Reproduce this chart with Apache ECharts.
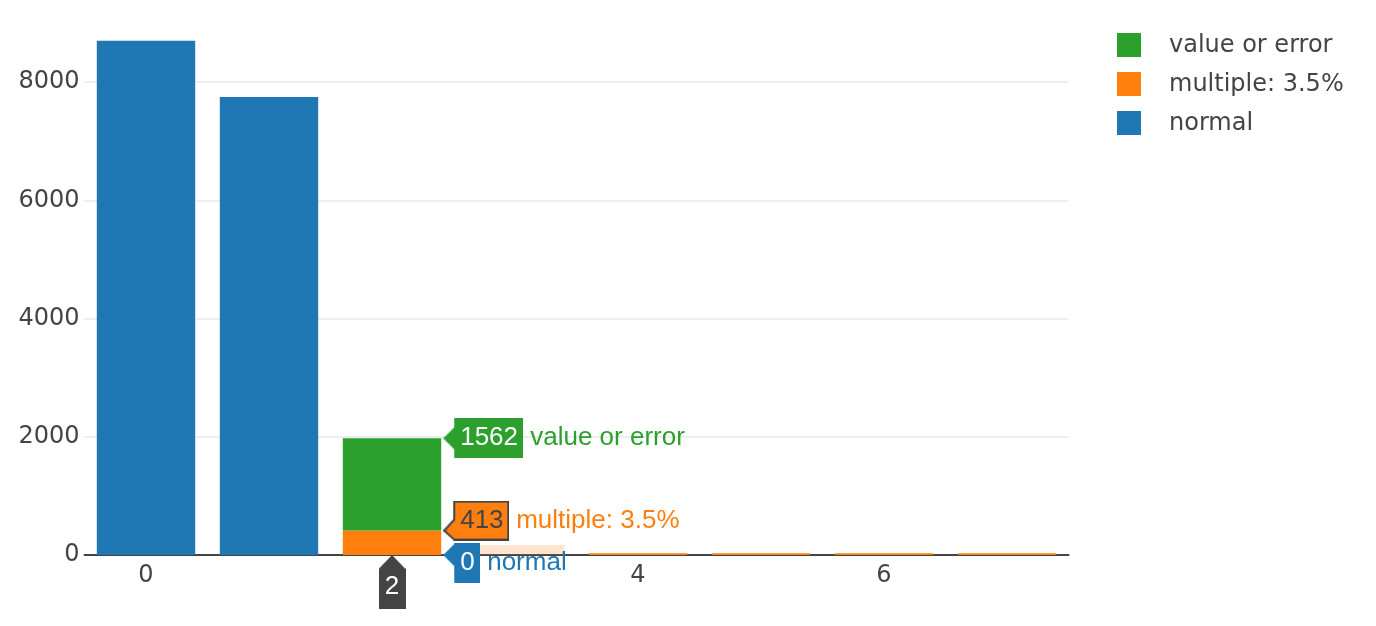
<!DOCTYPE html>
<html>
<head>
<meta charset="utf-8">
<script src="https://cdn.jsdelivr.net/npm/echarts@6/dist/echarts.min.js"></script>
<style>
    html, body { margin: 0; padding: 0; background: #fff; }
    #chart { width: 1376px; height: 626px; }
</style>
</head>
<body>
<div id="chart"></div>
<script>
"use strict";
// 数据
var categories = ['0', '1', '2', '3', '4', '5', '6', '7'];
var normalValues = [8700, 7750, 0, 0, 0, 0, 0, 0];
var multipleValues = [0, 0, 413, 170, 30, 30, 30, 30];
var errorValues = [0, 0, 1562, 0, 0, 0, 0, 0];
var seriesNames = ['normal', 'multiple: 3.5%', 'value or error'];
var legendOrder = ['value or error', 'multiple: 3.5%', 'normal'];

var hoverIndex = 2;   // 悬停的类目
var fadedIndex = 3;   // 淡化的柱子

var colors = ['#1f77b4', '#ff7f0e', '#2ca02c'];
var tickFont = "'DejaVu Sans', Verdana, sans-serif";
var hoverFont = "Arial, 'Liberation Sans', sans-serif";

var measure = document.createElement('canvas').getContext('2d');
measure.font = '26px ' + hoverFont;
function textWidth(t) {
    return Math.ceil(measure.measureText(t).width);
}

/**
 * 画带箭头的悬停标签底图
 */
function arrowBox(text, tipY, fill, stroke) {
    var a = 11;
    var w = textWidth(text) + a + 6 + 5;
    var h = 40;
    var c = document.createElement('canvas');
    c.width = w;
    c.height = h;
    var g = c.getContext('2d');
    var o = stroke ? 1 : 0;
    g.beginPath();
    g.moveTo(a, o);
    g.lineTo(w - o, o);
    g.lineTo(w - o, h - o);
    g.lineTo(a, h - o);
    g.lineTo(a, Math.min(h - o, tipY + 11));
    g.lineTo(o, tipY);
    g.lineTo(a, Math.max(o, tipY - 11));
    g.closePath();
    g.fillStyle = fill;
    g.fill();
    if (stroke) {
        g.lineWidth = 2;
        g.strokeStyle = stroke;
        g.stroke();
    }
    return c;
}

// x轴悬停标签 (向上箭头), 上方留 shift 像素透明
var houseShift = 16;
function houseBox() {
    var c = document.createElement('canvas');
    c.width = 26;
    c.height = 54 + houseShift;
    var g = c.getContext('2d');
    var t = houseShift;
    g.beginPath();
    g.moveTo(13, t);
    g.lineTo(26, t + 14);
    g.lineTo(26, t + 54);
    g.lineTo(0, t + 54);
    g.lineTo(0, t + 14);
    g.closePath();
    g.fillStyle = '#444';
    g.fill();
    return c;
}

function hoverLabel(value, name, color, tipY, offsetY, textColor, stroke) {
    return {
        show: true,
        position: ['100%', 0],
        offset: [2, offsetY],
        align: 'left',
        verticalAlign: 'middle',
        formatter: '{box|' + value + '}{nm|' + name + '}',
        rich: {
            box: {
                fontFamily: hoverFont,
                fontSize: 26,
                lineHeight: 26,
                width: textWidth(String(value)),
                color: textColor,
                padding: [7, 5, 7, 17],
                backgroundColor: { image: arrowBox(String(value), tipY, color, stroke) }
            },
            nm: {
                fontFamily: hoverFont,
                fontSize: 26,
                color: color,
                padding: [0, 0, 0, 7]
            }
        }
    };
}

var labels = [
    hoverLabel(normalValues[hoverIndex], seriesNames[0], colors[0], 12, 8, '#fff', null),
    hoverLabel(multipleValues[hoverIndex], seriesNames[1], colors[1], 30, -10, '#444', '#444'),
    hoverLabel(errorValues[hoverIndex], seriesNames[2], colors[2], 20, 0, '#fff', null)
];

function buildData(values, idx) {
    return values.map(function (v, i) {
        var item = { value: v };
        if (i === hoverIndex) {
            item.label = labels[idx];
        }
        if (idx === 1 && i === fadedIndex) {
            item.itemStyle = { opacity: 0.2 };
        }
        return item;
    });
}

var allValues = [normalValues, multipleValues, errorValues];
var series = [];
for (var s = 0; s < seriesNames.length; s++) {
    series.push({
        name: seriesNames[s],
        type: 'bar',
        stack: 'total',
        barCategoryGap: '20%',
        itemStyle: { color: colors[s] },
        label: { show: false },
        emphasis: { disabled: true },
        data: buildData(allValues[s], s)
    });
}

var chart = echarts.init(document.getElementById('chart'));
chart.setOption({
    animation: false,
    tooltip: { show: false },
    legend: {
        data: legendOrder,
        orient: 'vertical',
        left: 1117,
        top: 33,
        padding: 0,
        icon: 'rect',
        itemWidth: 24,
        itemHeight: 24,
        itemGap: 14,
        selectedMode: false,
        formatter: function (name) {
            return '{t|' + name + '}';
        },
        textStyle: {
            rich: {
                t: {
                    fontFamily: tickFont,
                    fontSize: 24,
                    color: '#444',
                    padding: [2, 0, 0, 23]
                }
            }
        }
    },
    grid: {
        left: 84.5,
        right: 307.5,
        top: 23,
        bottom: 71,
        containLabel: false
    },
    xAxis: {
        type: 'category',
        data: categories,
        axisTick: { show: false },
        axisLine: { show: true, lineStyle: { color: '#444', width: 2 } },
        axisLabel: {
            interval: 1,
            margin: 6,
            verticalAlign: 'top',
            formatter: function (v) {
                if (v === categories[hoverIndex]) {
                    return '{hl|' + v + '}';
                }
                return '{n|' + v + '}';
            },
            rich: {
                n: {
                    fontFamily: tickFont,
                    fontSize: 24,
                    lineHeight: 24,
                    color: '#444',
                    padding: [6, 0, 0, 0]
                },
                hl: {
                    fontFamily: hoverFont,
                    fontSize: 26,
                    lineHeight: 26,
                    width: textWidth(categories[hoverIndex]),
                    color: '#fff',
                    padding: [19 + houseShift, 6, 9, 6],
                    backgroundColor: { image: houseBox() }
                }
            }
        }
    },
    yAxis: {
        type: 'value',
        min: 0,
        max: 9000,
        interval: 2000,
        axisLine: { show: false },
        axisTick: { show: false },
        axisLabel: {
            showMaxLabel: false,
            margin: 5,
            fontFamily: tickFont,
            fontSize: 24,
            color: '#444',
            formatter: function (v) {
                return String(v);
            }
        },
        splitLine: {
            show: true,
            showMaxLine: false,
            lineStyle: { color: '#eee', width: 2 }
        }
    },
    series: series
});

window.addEventListener('resize', function () {
    chart.resize();
});
</script>
</body>
</html>
